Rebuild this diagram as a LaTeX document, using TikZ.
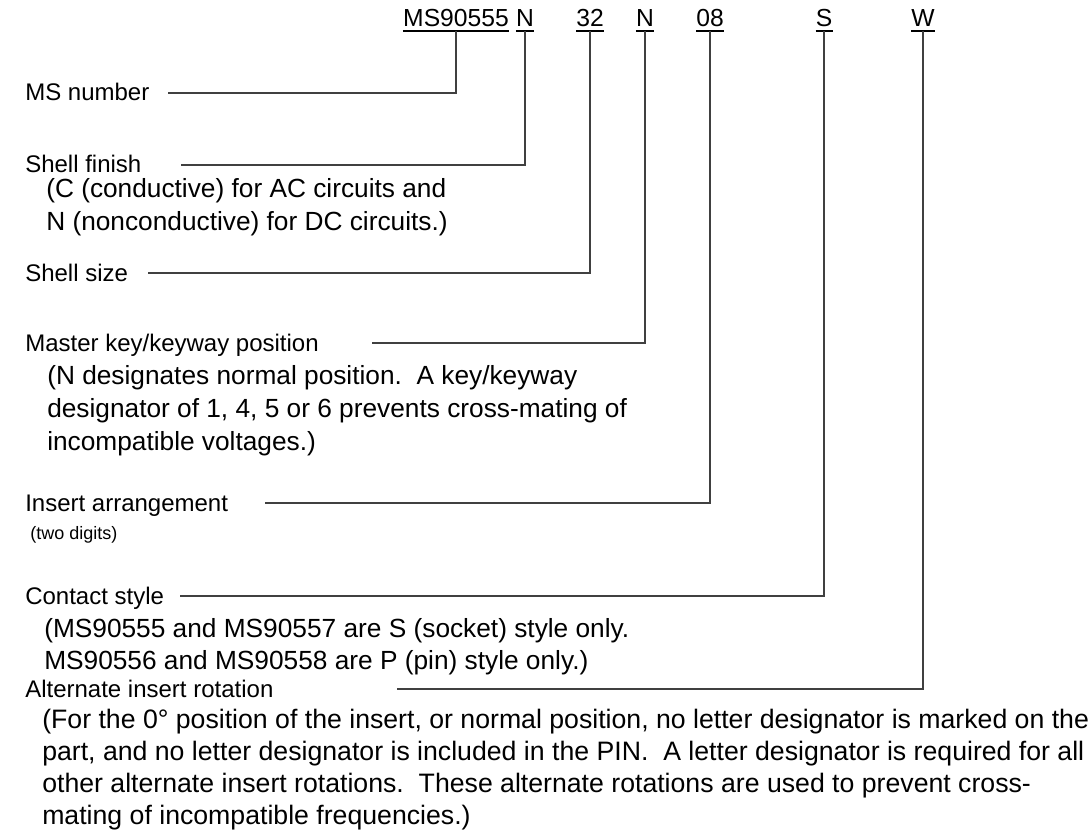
\documentclass[tikz,border=0pt]{standalone}
\usepackage{fontspec}
\setmainfont{Liberation Sans}
\begin{document}
\begin{tikzpicture}[x=0.75pt,y=-0.75pt,
    code/.style={font=\fontsize{18.5pt}{20pt}\selectfont, inner xsep=0pt, inner ysep=3pt, text depth=0pt, anchor=base},
    label/.style={font=\fontsize{18pt}{20pt}\selectfont, inner sep=0pt, anchor=base west},
    note/.style={font=\fontsize{19.7pt}{22pt}\selectfont, inner sep=0pt, anchor=base west},
    small/.style={font=\fontsize{13.5pt}{15pt}\selectfont, inner sep=0pt, anchor=base west},
    lead/.style={draw=black!75, line width=1pt},
    uline/.style={draw=black, line width=1.5pt}]
  \useasboundingbox (0,0) rectangle (1092,831);
  \def\topline{27}

  % part number, each field underlined
  \node[code] (ms)  at (456,\topline) {MS90555};
  \node[code] (fin) at (525,\topline) {N};
  \node[code] (siz) at (590,\topline) {32};
  \node[code] (key) at (645,\topline) {N};
  \node[code] (ins) at (710,\topline) {08};
  \node[code] (con) at (824,\topline) {S};
  \node[code] (rot) at (923,\topline) {W};
  \foreach \f in {ms,fin,siz,key,ins,con,rot} {
    \draw[uline] (\f.south west) -- (\f.south east);
  }

  % field names
  \node[label] (msl)  at (25,101) {MS number};
  \node[label] (finl) at (25,173) {Shell finish};
  \node[label] (sizl) at (25,281) {Shell size};
  \node[label] (keyl) at (25,351) {Master key/keyway position};
  \node[label] (insl) at (25,511) {Insert arrangement};
  \node[label] (conl) at (25,604) {Contact style};
  \node[label] (rotl) at (25,697) {Alternate insert rotation};

  % notes
  \foreach \t [count=\i] in {{(C (conductive) for AC circuits and},
      {N (nonconductive) for DC circuits.)}} {
    \node[note] (finn-\i) at (46,{197+33*(\i-1)}) {\t};
  }
  \foreach \t [count=\i] in {{(N designates normal position.\ \ A key/keyway},
      {designator of 1, 4, 5 or 6 prevents cross-mating of},
      {incompatible voltages.)}} {
    \node[note] (keyn-\i) at (47,{384+33*(\i-1)}) {\t};
  }
  \node[small] (insn) at (30,539) {(two digits)};
  \foreach \t [count=\i] in {{(MS90555 and MS90557 are S (socket) style only.},
      {MS90556 and MS90558 are P (pin) style only.)}} {
    \node[note] (conn-\i) at (44,{637+32*(\i-1)}) {\t};
  }
  \foreach \t [count=\i] in {{(For the 0° position of the insert, or normal position, no letter designator is marked on the},
      {part, and no letter designator is included in the PIN.\ \ A letter designator is required for all},
      {other alternate insert rotations.\ \ These alternate rotations are used to prevent cross-},
      {mating of incompatible frequencies.)}} {
    \node[note, font=\fontsize{20pt}{22pt}\selectfont] (rotn-\i) at (42,{728+32.2*(\i-1)}) {\t};
  }

  % leaders
  \coordinate (msa)  at (168,93);
  \coordinate (fina) at (181,165);
  \coordinate (siza) at (148,273);
  \coordinate (keya) at (372,343);
  \coordinate (insa) at (265,503);
  \coordinate (cona) at (180,596);
  \coordinate (rota) at (397,689);
  \foreach \f in {ms,fin,siz,key,ins,con,rot} {
    \draw[lead] (\f a) -| (\f.south);
  }
\end{tikzpicture}
\end{document}
